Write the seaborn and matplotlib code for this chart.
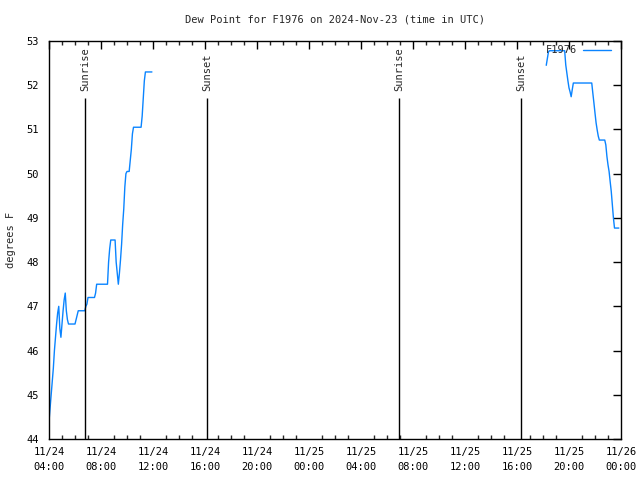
import numpy as np
import pandas as pd
import matplotlib
matplotlib.use("Agg")
import matplotlib.pyplot as plt
import matplotlib.dates as mdates
from matplotlib.lines import Line2D
import seaborn as sns

# ---------------- data ----------------
title = "Dew Point for F1976 on 2024-Nov-23 (time in UTC)"
series_name = "F1976"
y_label = "degrees F"

seg1_start = "2024-11-24 04:00"
seg1_values = [
    44.4, 44.7, 45.0, 45.3, 45.6, 46.0, 46.3, 46.6, 46.85, 47.0,
    46.5, 46.3, 46.6, 46.9, 47.15, 47.3, 46.9, 46.7,
    46.6, 46.6, 46.6, 46.6, 46.6, 46.6, 46.6,
    46.7, 46.8,
    46.9, 46.9, 46.9, 46.9, 46.9, 46.9, 46.9,
    47.0, 47.05,
    47.2, 47.2, 47.2, 47.2, 47.2, 47.2, 47.2,
    47.3,
    47.5, 47.5, 47.5, 47.5, 47.5, 47.5, 47.5, 47.5, 47.5, 47.5, 47.5,
    48.0, 48.3,
    48.5, 48.5, 48.5, 48.5, 48.5,
    48.0, 47.75, 47.5, 47.75, 48.05, 48.4, 48.85, 49.2, 49.7, 50.0,
    50.05, 50.05, 50.05,
    50.3, 50.55, 50.9,
    51.05, 51.05, 51.05, 51.05, 51.05, 51.05, 51.05, 51.05,
    51.3, 51.7, 52.1,
    52.3, 52.3, 52.3, 52.3, 52.3, 52.3, 52.3,
]

seg2_start = "2024-11-25 18:15"
seg2_values = [
    52.45, 52.6, 52.75,
    52.78, 52.78, 52.78, 52.78, 52.78, 52.78, 52.78, 52.78, 52.78, 52.78,
    52.78, 52.78, 52.78, 52.78, 52.78,
    52.46, 52.28, 52.1, 51.94, 51.85, 51.74, 51.9,
    52.05, 52.05, 52.05, 52.05, 52.05, 52.05, 52.05, 52.05, 52.05, 52.05,
    52.05, 52.05, 52.05, 52.05, 52.05, 52.05, 52.05, 52.05,
    51.82, 51.6, 51.37, 51.15, 50.99, 50.85,
    50.76, 50.76, 50.76, 50.76, 50.76, 50.76,
    50.65, 50.39, 50.2, 50.05, 49.82, 49.6, 49.3, 49.0,
    48.77, 48.77, 48.77, 48.77, 48.77,
]

sun_events = ["Sunrise", "Sunset", "Sunrise", "Sunset"]
sun_times = ["2024-11-24 06:46", "2024-11-24 16:09",
             "2024-11-25 06:55", "2024-11-25 16:18"]
sun_line_top = 51.7

x_start = "2024-11-24 04:00"
x_end = "2024-11-26 00:00"
y_min, y_max = 44, 53

# ---------------- build frame ----------------
t1 = pd.date_range(seg1_start, periods=len(seg1_values), freq="5min")
t2 = pd.date_range(seg2_start, periods=len(seg2_values), freq="5min")
df = pd.DataFrame({
    "time": list(t1) + list(t2),
    "dewpoint": seg1_values + seg2_values,
    "segment": [1] * len(seg1_values) + [2] * len(seg2_values),
})

# ---------------- plot ----------------
sns.set_style("white")
plt.rcParams["font.family"] = ["DejaVu Sans Mono", "DejaVu Sans"]
plt.rcParams["font.size"] = 7

fig = plt.figure(figsize=(6.4, 4.8), dpi=100)
ax = fig.add_axes([49 / 640, 1 - 439 / 480, (621 - 49) / 640, (439 - 41) / 480])

line_color = "#0a84ff"
sns.lineplot(data=df, x="time", y="dewpoint", units="segment", estimator=None,
             color=line_color, linewidth=1.0, ax=ax, legend=False)

for name, t in zip(sun_events, sun_times):
    tt = pd.Timestamp(t)
    ax.vlines(tt, y_min, sun_line_top, color="black", linewidth=1.0)
    ax.text(tt, sun_line_top + 0.17, name, rotation=90, ha="center", va="bottom",
            fontsize=7.5)

ax.set_xlim(pd.Timestamp(x_start), pd.Timestamp(x_end))
ax.set_ylim(y_min, y_max)
ax.set_yticks(range(y_min, y_max + 1))

ax.xaxis.set_major_locator(mdates.HourLocator(byhour=range(0, 24, 4)))
ax.xaxis.set_minor_locator(mdates.HourLocator())
ax.xaxis.set_major_formatter(mdates.DateFormatter("%m/%d\n%H:%M"))

ax.tick_params(axis="both", which="major", direction="in", length=6, width=1,
               top=True, right=True, labelsize=7.5, colors="black")
ax.tick_params(axis="x", which="minor", direction="in", length=3, width=1,
               top=True, bottom=True)
ax.tick_params(axis="x", which="major", pad=6)
ax.tick_params(axis="y", which="major", pad=7)
for lab in ax.get_xticklabels():
    lab.set_linespacing(1.6)

for s in ax.spines.values():
    s.set_color("black")
    s.set_linewidth(1.0)
    s.set_visible(True)

ax.set_xlabel("")
ax.set_ylabel(y_label, fontsize=7.5, labelpad=8)
ax.set_title(title, fontsize=7.5, pad=13)

handle = Line2D([0], [0], color=line_color, linewidth=1.0)
ax.legend([handle], [series_name], loc="upper right", frameon=False,
          markerfirst=False, handlelength=2.7, handletextpad=0.6,
          fontsize=7.5, bbox_to_anchor=(0.994, 1.005), borderaxespad=0.2)

fig.savefig("out.png", dpi=100)
